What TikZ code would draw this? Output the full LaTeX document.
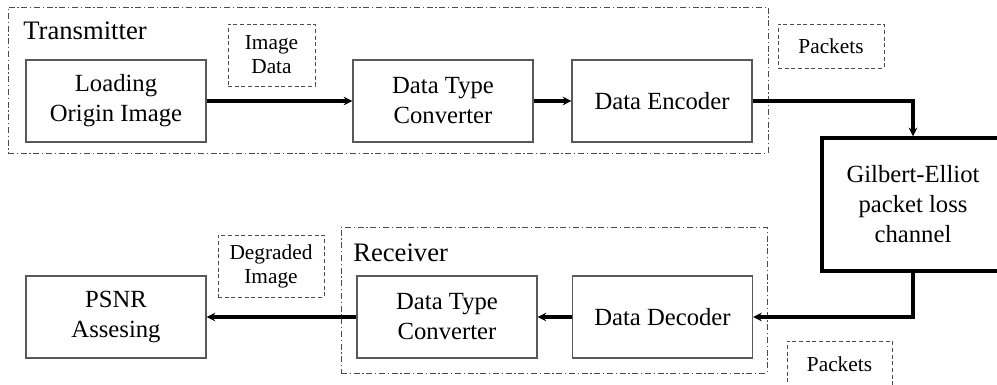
\documentclass[tikz,border=0pt]{standalone}
\usepackage{fontspec}
\setmainfont{Liberation Serif}
\usetikzlibrary{arrows.meta}
\begin{document}
\begin{tikzpicture}[x=0.75pt,y=-0.75pt,
  blk/.style={draw=black!65, line width=0.9pt, minimum width=180*0.75pt, minimum height=82*0.75pt,
    align=center, inner sep=0pt, font=\fontsize{18.5}{22.5}\selectfont},
  lbl/.style={draw=black!70, line width=0.7pt, dash pattern=on 3pt off 2pt, align=center, inner sep=0pt,
    font=\fontsize{16}{18}\selectfont},
  frame/.style={draw=black!70, line width=0.6pt, dash pattern=on 4.5pt off 2pt on 1pt off 2pt, inner sep=0pt},
  title/.style={font=\fontsize{20}{24}\selectfont, inner sep=0pt, anchor=base west},
  conn/.style={line width=2.3pt, -{Stealth[length=6.5pt,width=6.5pt]}}]
\useasboundingbox (0,0) rectangle (997,385);
% frames
\node[frame, minimum width=760*0.75pt, minimum height=146*0.75pt] (txf) at (388,80) {};
\node[frame, minimum width=426*0.75pt, minimum height=146*0.75pt] (rxf) at (554,300) {};
\node[title] (txt) at (23,40) {Transmitter};
\node[title] (rxt) at (353,261) {Receiver};
% blocks
\node[blk] (load) at (116,101) {Loading\\Origin Image};
\node[blk] (dtc) at (443,101) {Data Type\\Converter};
\node[blk] (enc) at (662,101) {Data Encoder};
\node[blk, draw=black, line width=2.6pt, minimum width=182*0.75pt, minimum height=133*0.75pt] (ge) at (913,204.5) {Gilbert-Elliot\\packet loss\\channel};
\node[blk] (dec) at (662.5,317) {Data Decoder};
\node[blk] (dtcr) at (447,317) {Data Type\\Converter};
\node[blk] (psnr) at (116,317) {PSNR\\Assesing};
% labels
\node[lbl, minimum width=87*0.75pt, minimum height=62*0.75pt] (imd) at (271.5,55) {Image\\Data};
\node[lbl, minimum width=106*0.75pt, minimum height=44*0.75pt] (pk1) at (831,46) {Packets};
\node[lbl, minimum width=106*0.75pt, minimum height=62*0.75pt] (dgi) at (271,266) {Degraded\\Image};
\node[lbl, minimum width=105*0.75pt, minimum height=46*0.75pt] (pk2) at (839.5,364) {Packets};
% connectors
\draw[conn] (load.east) -- (dtc.west);
\draw[conn] (dtc.east) -- (enc.west);
\draw[conn] (enc.east) -| (ge.north);
\draw[conn] (ge.south) |- (dec.east);
\draw[conn] (dec.west) -- (dtcr.east);
\draw[conn] (dtcr.west) -- (psnr.east);
\end{tikzpicture}
\end{document}
